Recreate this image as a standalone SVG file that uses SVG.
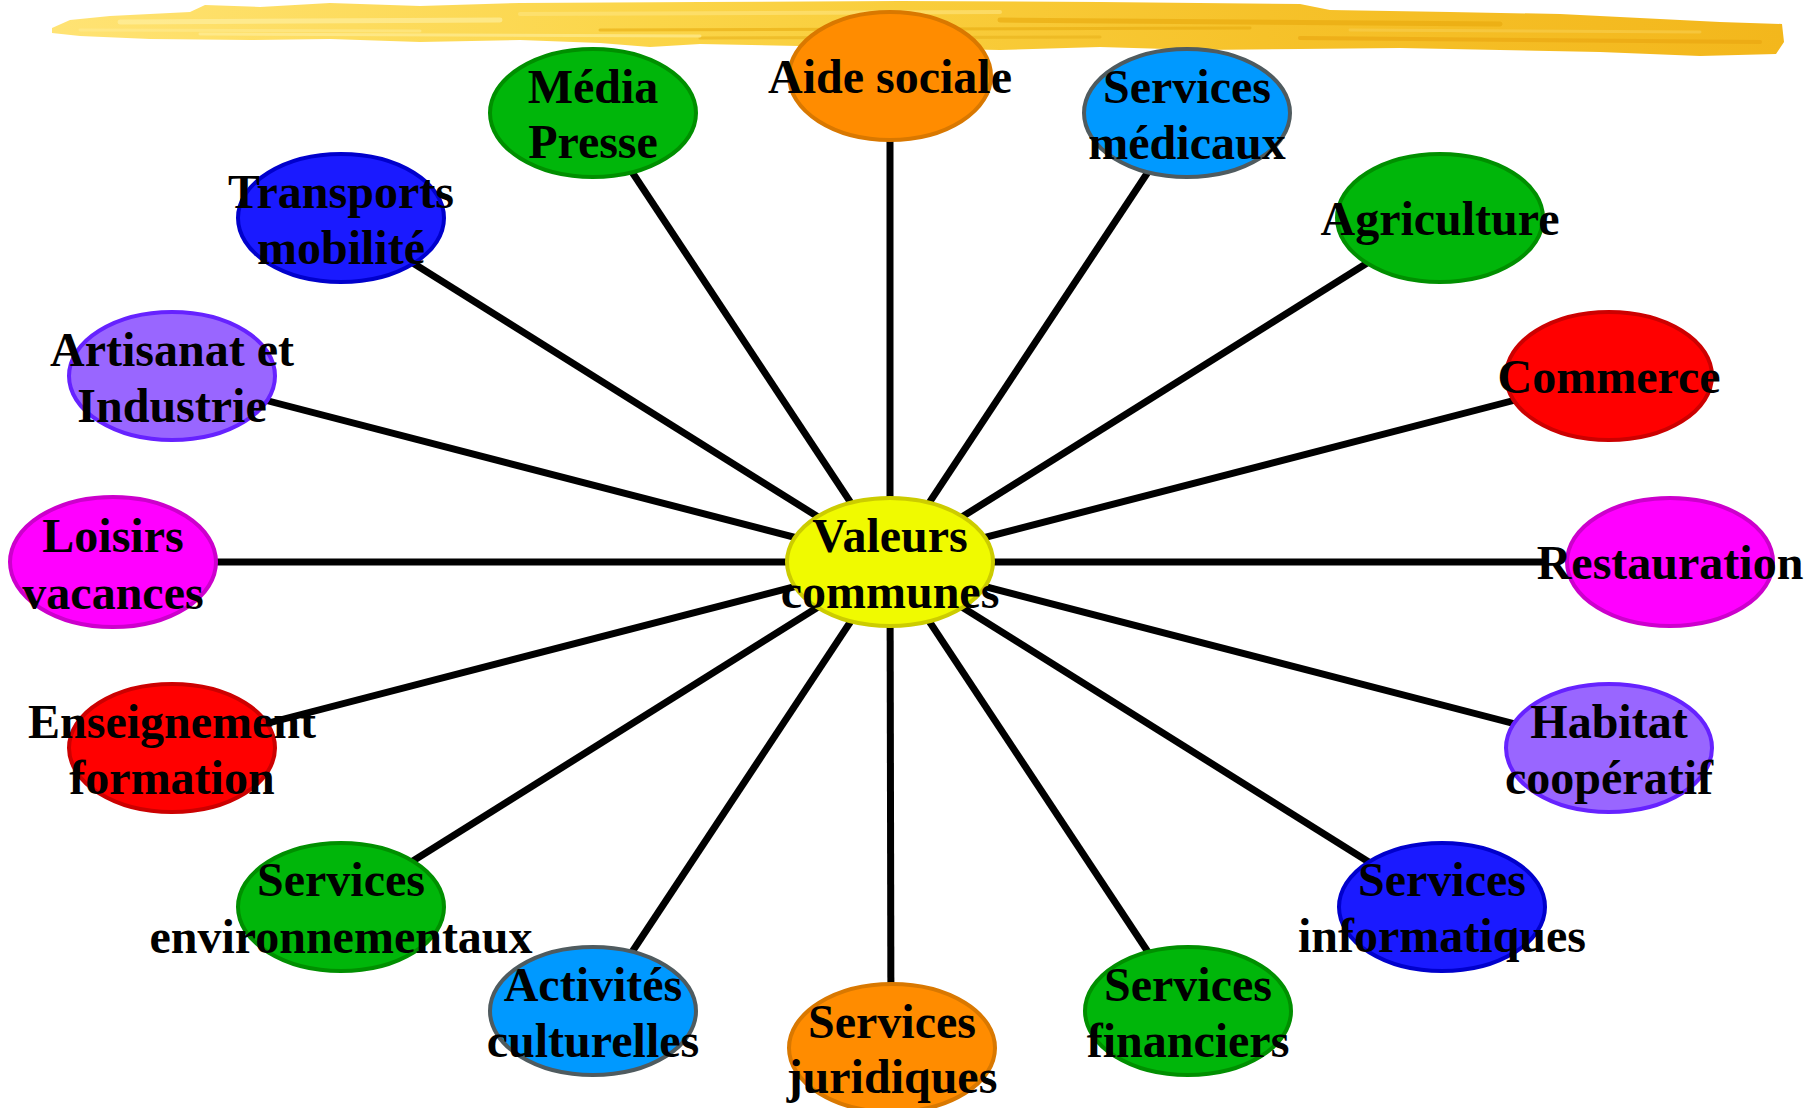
<svg xmlns="http://www.w3.org/2000/svg" width="1806" height="1108" viewBox="0 0 1806 1108">
<defs>
<linearGradient id="brush" x1="0" y1="0" x2="1" y2="0">
<stop offset="0" stop-color="#ffe374"/>
<stop offset="0.35" stop-color="#fbd548"/>
<stop offset="0.7" stop-color="#f6c22a"/>
<stop offset="1" stop-color="#f3b71c"/>
</linearGradient>
<style>
.n{stroke-width:4}
.t{font-family:"Liberation Serif","Times New Roman",serif;font-weight:bold;font-size:48px;fill:#000;text-anchor:middle}
.c line{stroke:#000;stroke-width:7}
.green{fill:#00b60a;stroke:#008f00}
.sky{fill:#0099ff;stroke:#4f5b5f}
.navy{fill:#1a1aff;stroke:#0000cc}
.violet{fill:#9966ff;stroke:#6622ff}
.orange{fill:#ff8c00;stroke:#d97800}
.magenta{fill:#ff00ff;stroke:#cc00cc}
.red{fill:#ff0000;stroke:#cc0000}
.yellow{fill:#f0fa00;stroke:#cccc00}
</style>
</defs>
<rect width="1806" height="1108" fill="#ffffff"/>
<g id="banner">
<path fill="url(#brush)" d="M52,28 L70,20 L110,16 L190,12 L205,5 L260,7 L330,3 L420,6 L520,3 L700,2 L900,1 L1100,2 L1300,4 L1330,10 L1450,12 L1560,14 L1640,18 L1720,22 L1782,24 L1784,42 L1776,54 L1700,56 L1600,52 L1500,50 L1400,48 L1300,49 L1200,50 L1100,47 L1000,50 L900,48 L800,46 L700,44 L650,47 L600,43 L520,40 L420,42 L330,39 L250,40 L150,39 L80,36 L52,33 Z"/>
<g stroke-linecap="round" fill="none" opacity="0.6">
<path d="M120,22 L500,20" stroke="#fff2a8" stroke-width="5"/>
<path d="M80,30 L420,31" stroke="#ffeb90" stroke-width="3"/>
<path d="M520,14 L1000,12" stroke="#ffe680" stroke-width="4"/>
<path d="M600,30 L1250,28" stroke="#e8ac10" stroke-width="3"/>
<path d="M700,38 L1100,37" stroke="#e9b31c" stroke-width="3"/>
<path d="M1000,20 L1500,24" stroke="#e8a80c" stroke-width="5"/>
<path d="M1300,38 L1760,42" stroke="#eaa510" stroke-width="4"/>
<path d="M1350,30 L1700,32" stroke="#f8cf50" stroke-width="3"/>
<path d="M200,34 L700,36" stroke="#fff0a0" stroke-width="3"/>
</g>
</g>
<g id="connectors" class="c">
<line x1="890" y1="562" x2="890" y2="76"/>
<line x1="890" y1="562" x2="1187" y2="113"/>
<line x1="890" y1="562" x2="1439" y2="218"/>
<line x1="890" y1="562" x2="1608" y2="376"/>
<line x1="890" y1="562" x2="1547" y2="562"/>
<line x1="890" y1="562" x2="1608" y2="748"/>
<line x1="890" y1="562" x2="1439" y2="906"/>
<line x1="890" y1="562" x2="1187" y2="1011"/>
<line x1="890" y1="562" x2="891" y2="1048"/>
<line x1="890" y1="562" x2="593" y2="1011"/>
<line x1="890" y1="562" x2="341" y2="906"/>
<line x1="890" y1="562" x2="172" y2="748"/>
<line x1="890" y1="562" x2="113" y2="562"/>
<line x1="890" y1="562" x2="172" y2="376"/>
<line x1="890" y1="562" x2="341" y2="218"/>
<line x1="890" y1="562" x2="593" y2="113"/>
</g>
<g id="node-valeurs"><ellipse class="n yellow" cx="890" cy="562" rx="103" ry="64"/><text class="t" x="890" y="552">Valeurs</text><text class="t" x="890" y="608">communes</text></g>
<g id="node-aide-sociale"><ellipse class="n orange" cx="890" cy="76" rx="101" ry="64"/><text class="t" x="890" y="93">Aide sociale</text></g>
<g id="node-services-medicaux"><ellipse class="n sky" cx="1187" cy="113" rx="103" ry="64"/><text class="t" x="1187" y="103">Services</text><text class="t" x="1187" y="159">médicaux</text></g>
<g id="node-agriculture"><ellipse class="n green" cx="1440" cy="218" rx="103" ry="64"/><text class="t" x="1440" y="235">Agriculture</text></g>
<g id="node-commerce"><ellipse class="n red" cx="1609" cy="376" rx="103" ry="64"/><text class="t" x="1609" y="393">Commerce</text></g>
<g id="node-restauration"><ellipse class="n magenta" cx="1670" cy="562" rx="103" ry="64"/><text class="t" x="1670" y="579">Restauration</text></g>
<g id="node-habitat"><ellipse class="n violet" cx="1609" cy="748" rx="103" ry="64"/><text class="t" x="1609" y="738">Habitat</text><text class="t" x="1609" y="794">coopératif</text></g>
<g id="node-services-informatiques"><ellipse class="n navy" cx="1442" cy="907" rx="103" ry="64"/><text class="t" x="1442" y="896">Services</text><text class="t" x="1442" y="952">informatiques</text></g>
<g id="node-services-financiers"><ellipse class="n green" cx="1188" cy="1011" rx="103" ry="64"/><text class="t" x="1188" y="1001">Services</text><text class="t" x="1188" y="1057">financiers</text></g>
<g id="node-services-juridiques"><ellipse class="n orange" cx="892" cy="1048" rx="103" ry="64"/><text class="t" x="892" y="1038">Services</text><text class="t" x="892" y="1093">juridiques</text></g>
<g id="node-activites-culturelles"><ellipse class="n sky" cx="593" cy="1011" rx="103" ry="64"/><text class="t" x="593" y="1001">Activités</text><text class="t" x="593" y="1057">culturelles</text></g>
<g id="node-services-environnementaux"><ellipse class="n green" cx="341" cy="907" rx="103" ry="64"/><text class="t" x="341" y="896">Services</text><text class="t" x="341" y="953">environnementaux</text></g>
<g id="node-enseignement"><ellipse class="n red" cx="172" cy="748" rx="103" ry="64"/><text class="t" x="172" y="738">Enseignement</text><text class="t" x="172" y="794">formation</text></g>
<g id="node-loisirs"><ellipse class="n magenta" cx="113" cy="562" rx="103" ry="65"/><text class="t" x="113" y="552">Loisirs</text><text class="t" x="113" y="609">vacances</text></g>
<g id="node-artisanat"><ellipse class="n violet" cx="172" cy="376" rx="103" ry="64"/><text class="t" x="172" y="366">Artisanat et</text><text class="t" x="172" y="422">Industrie</text></g>
<g id="node-transports"><ellipse class="n navy" cx="341" cy="218" rx="103" ry="64"/><text class="t" x="341" y="208">Transports</text><text class="t" x="341" y="264">mobilité</text></g>
<g id="node-media"><ellipse class="n green" cx="593" cy="113" rx="103" ry="64"/><text class="t" x="593" y="103">Média</text><text class="t" x="593" y="158">Presse</text></g>
</svg>
